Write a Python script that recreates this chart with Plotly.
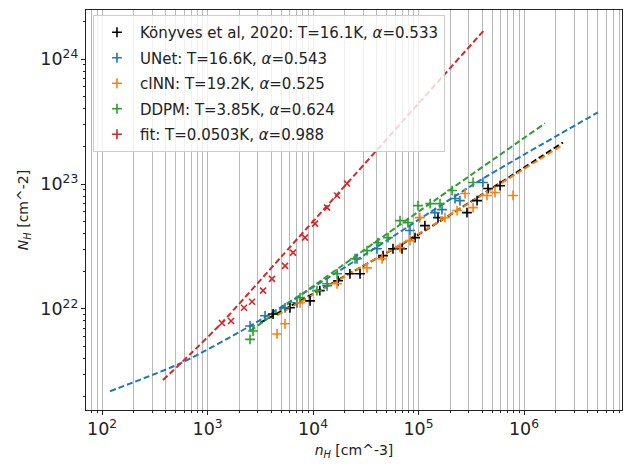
import plotly.graph_objects as go

# ---------------- data ----------------
konyves_n = [4180, 6050, 9380, 1.16e4, 1.73e4, 2.24e4, 2.79e4, 4.61e4, 5.73e4, 6.98e4,
             9.27e4, 1.15e5, 1.53e5, 2.88e5, 3.59e5, 4.56e5, 5.93e5]
konyves_N = [9.1e21, 1.02e22, 1.16e22, 1.40e22, 1.68e22, 1.91e22, 1.91e22, 2.67e22, 3.03e22, 3.03e22,
             3.72e22, 4.64e22, 5.38e22, 5.90e22, 7.37e22, 9.2e22, 9.7e22]

unet_n = [2530, 3510, 5430, 7050, 1.36e4, 2.61e4, 4.04e4, 8.3e4, 1.43e5, 1.67e5, 2.22e5, 2.47e5, 4.08e5]
unet_N = [7.3e21, 8.8e21, 1.02e22, 1.12e22, 1.53e22, 2.52e22, 3.03e22, 4.24e22, 5.9e22, 6.24e22,
          7.65e22, 7.37e22, 1.03e23]

cinn_n = [4560, 5430, 7530, 1.69e4, 3.25e4, 4.51e4, 6.68e4, 8.3e4, 1.03e5, 1.78e5, 2.32e5, 2.76e5,
          3.29e5, 4.46e5, 5.31e5, 7.87e5]
cinn_N = [6.3e21, 7.6e21, 1.12e22, 1.59e22, 2.13e22, 2.52e22, 3.09e22, 3.52e22, 5.38e22, 5.38e22,
          6.13e22, 8.4e22, 6.47e22, 8.1e22, 8.55e22, 8.1e22]

ddpm_n = [2530, 2700, 7530, 1.09e4, 1.36e4, 1.69e4, 2.50e4, 3.25e4, 4.13e4, 5.14e4, 6.68e4, 7.94e4,
          9.89e4, 1.29e5, 1.60e5, 2.08e5, 3.29e5]
ddpm_N = [5.7e21, 6.65e21, 1.23e22, 1.40e22, 1.59e22, 1.91e22, 2.52e22, 2.93e22, 3.39e22, 3.72e22,
          5.09e22, 4.91e22, 6.72e22, 6.97e22, 6.97e22, 8.87e22, 1.03e23]

fitpts_n = [1371, 1671, 2218, 2642, 3360, 4085, 5430, 6460, 8390, 1.045e4, 1.36e4, 1.69e4, 2.10e4]
fitpts_N = [7.7e21, 8.0e21, 1.02e22, 1.14e22, 1.40e22, 1.74e22, 2.21e22, 2.82e22, 3.72e22, 4.82e22,
            6.48e22, 8.09e22, 1.01e23]

# dashed fitted curves
konyves_fit_n = [3150, 9.27e4, 2.34e6]
konyves_fit_N = [7.73e21, 3.8e22, 2.15e23]
unet_fit_n = [119, 561, 2530, 3.16e4, 3.83e5, 5.02e6]
unet_fit_N = [2.19e21, 3.68e21, 7.29e21, 2.75e22, 1.07e23, 3.75e23]
cinn_fit_n = [4570, 1.0e5, 2.29e6]
cinn_fit_N = [8.9e21, 3.98e22, 2.04e23]
ddpm_fit_n = [2530, 6.31e4, 1.58e6]
ddpm_fit_N = [6.65e21, 4.57e22, 3.06e23]
fit_fit_n = [378, 708, 1371, 5012, 2.10e4, 1.0e5, 4.27e5]
fit_fit_N = [2.69e21, 4.45e21, 7.76e21, 2.62e22, 1.01e23, 4.42e23, 1.74e24]

labels = ["Könyves et al, 2020: T=16.1K, <i>α</i>=0.533",
          "UNet: T=16.6K, <i>α</i>=0.543",
          "cINN: T=19.2K, <i>α</i>=0.525",
          "DDPM: T=3.85K, <i>α</i>=0.624",
          "fit: T=0.0503K, <i>α</i>=0.988"]
colors = ["#000000", "#1f77b4", "#ff7f0e", "#2ca02c", "#d62728"]

pts = [(konyves_n, konyves_N), (unet_n, unet_N), (cinn_n, cinn_N), (ddpm_n, ddpm_N), (fitpts_n, fitpts_N)]
fits = [(konyves_fit_n, konyves_fit_N), (unet_fit_n, unet_fit_N), (cinn_fit_n, cinn_fit_N),
        (ddpm_fit_n, ddpm_fit_N), (fit_fit_n, fit_fit_N)]

fig = go.Figure()

# dashed lines
for (fx, fy), c in zip(fits, colors):
    fig.add_trace(go.Scatter(x=fx, y=fy, mode="lines",
                             line=dict(color=c, width=2, dash="6px,3px", shape="spline", smoothing=0.6),
                             showlegend=False, hoverinfo="skip"))

# markers
for i, ((px, py), c) in enumerate(zip(pts, colors)):
    sym = "x-thin-open" if i == 4 else "cross-thin-open"
    fig.add_trace(go.Scatter(x=px, y=py, mode="markers",
                             marker=dict(symbol=sym, size=7 if i < 4 else 6, color=c,
                                         line=dict(color=c, width=1.6)),
                             showlegend=False))

# legend entries
for i, (lab, c) in enumerate(zip(labels, colors)):
    fig.add_trace(go.Scatter(x=[None], y=[None], mode="markers", name=lab, legendgroup=f"g{i}",
                             marker=dict(symbol="cross-thin-open", size=7, color=c,
                                         line=dict(color=c, width=1.6))))

axis_common = dict(type="log", showline=True, mirror=True, linecolor="#222", linewidth=1,
                   ticks="outside", ticklen=4, tickcolor="#222", dtick=1, exponentformat="power",
                   showexponent="all", zeroline=False,
                   tickfont=dict(family="DejaVu Sans", size=14, color="#222"))

fig.update_xaxes(**axis_common, range=[1.848, 6.929], showgrid=True, gridcolor="#b8b8b8", gridwidth=1,
                 minor=dict(dtick="D1", ticks="outside", ticklen=2, tickcolor="#222", showgrid=True,
                            gridcolor="#b8b8b8", gridwidth=1),
                 title=dict(text="<i>n<sub>H</sub></i> [cm^-3]",
                            font=dict(family="DejaVu Sans", size=14, color="#222"), standoff=6))
fig.update_yaxes(**axis_common, range=[21.19, 24.394], showgrid=False,
                 minor=dict(dtick="D1", ticks="outside", ticklen=2, tickcolor="#222", showgrid=False),
                 title=dict(text="<i>N<sub>H</sub></i> [cm^-2]",
                            font=dict(family="DejaVu Sans", size=14, color="#222"), standoff=8))

fig.update_layout(
    width=625, height=471,
    margin=dict(l=86, r=3, t=10, b=61),
    plot_bgcolor="white", paper_bgcolor="white",
    font=dict(family="DejaVu Sans", size=14, color="#222"),
    legend=dict(x=0.013, y=0.9875, xanchor="left", yanchor="top",
                bgcolor="rgba(255,255,255,0.8)", bordercolor="#cccccc", borderwidth=1,
                font=dict(family="DejaVu Sans", size=15, color="#222"),
                itemwidth=36, traceorder="grouped", tracegroupgap=3),
)

fig.write_html("out.html")
